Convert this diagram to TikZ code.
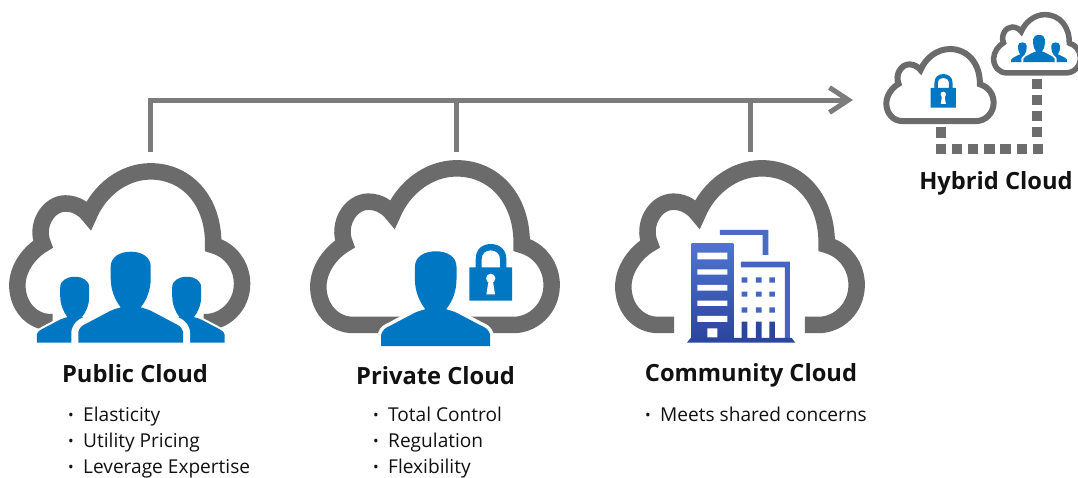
\documentclass[tikz,border=0pt]{standalone}
\usepackage{fontspec}
\setmainfont{Open Sans}
\usetikzlibrary{arrows.meta}
\definecolor{cloudgray}{HTML}{6B6B6B}
\definecolor{linegray}{HTML}{7C7C7C}
\definecolor{iconblue}{HTML}{0077C2}
\definecolor{bldtop}{HTML}{4F74D2}
\definecolor{bldbot}{HTML}{2B469E}
\definecolor{txt}{HTML}{111111}
\newcommand{\cloudoutline}[2]{(#1,525) -- (160,525) .. controls (100,525) and (55,475) .. (55,410)
 .. controls (55,355) and (95,305) .. (135,282)
 .. controls (110,225) and (150,155) .. (205,155)
 .. controls (240,155) and (265,175) .. (278,192)
 .. controls (310,115) and (385,55) .. (470,55)
 .. controls (585,55) and (668,150) .. (665,285)
 .. controls (720,300) and (755,350) .. (755,405)
 .. controls (755,475) and (700,525) .. (640,525) -- (#2,525)}
\newcommand{\personshape}{(-157,0) -- (-157,-33) .. controls (-152,-48) and (-145,-52) .. (-132,-58)
 -- (-62,-95) .. controls (-50,-101) and (-40,-103) .. (-30,-106)
 .. controls (-47,-128) and (-60,-158) .. (-60,-193) -- (-60,-228)
 .. controls (-60,-258) and (-32,-273) .. (0,-273)
 .. controls (33,-273) and (60,-258) .. (60,-228) -- (60,-193)
 .. controls (60,-158) and (48,-128) .. (30,-106)
 .. controls (40,-103) and (50,-101) .. (62,-95) -- (132,-58)
 .. controls (145,-52) and (152,-48) .. (157,-33) -- (157,0) -- cycle}
% shift x, shift y, scale, halo width
\newcommand{\person}[4]{\begin{scope}[shift={(#1,#2)},scale=#3]
 \draw[white,line width=#4,line join=round] \personshape;
 \fill[iconblue] \personshape;
\end{scope}}
\newcommand{\people}[4]{\begin{scope}[shift={(#1,#2)},scale=#3]
 \begin{scope}[shift={(-168,0)},scale=.725]\draw[white,line width=.3*#4,line join=round] \personshape;\fill[iconblue] \personshape;\end{scope}
 \begin{scope}[shift={(168,0)},scale=.725]\draw[white,line width=.3*#4,line join=round] \personshape;\fill[iconblue] \personshape;\end{scope}
 \draw[white,line width=#4,line join=round] \personshape;
 \fill[iconblue] \personshape;
\end{scope}}
% lock: origin bottom centre; zoomed units
\newcommand{\padlock}[3]{\begin{scope}[shift={(#1,#2)},scale=#3]
 \fill[iconblue,even odd rule] (-64,0) rectangle (64,-100)
  (-45,-100) -- (-45,-125) .. controls (-45,-155) and (-25,-170) .. (0,-170)
  .. controls (25,-170) and (47,-155) .. (47,-125) -- (47,-100) -- (28,-100) -- (28,-125)
  .. controls (28,-142) and (15,-151) .. (0,-151) .. controls (-15,-151) and (-27,-142) .. (-27,-125) -- (-27,-100) -- cycle;
 \fill[white] (0,-67) circle[radius=14];
 \fill[white] (-6,-62) -- (-13,-19) -- (13,-19) -- (6,-62) -- cycle;
\end{scope}}
\tikzset{
 cloudline/.style={draw=cloudgray,line join=miter,fill=none},
 trunk/.style={draw=linegray,line width=5pt},
 title/.style={anchor=base,font=\fontsize{23.7}{26}\selectfont\bfseries,text=txt,inner sep=0pt},
 item/.style={anchor=base west,font=\fontsize{19.1}{22}\selectfont,text=txt,inner sep=0pt},
 link/.style={draw=linegray!88!black,line width=10.5pt}
}
\newcommand{\bul}{\makebox[15pt][l]{\fontsize{15}{15}\selectfont\raisebox{1pt}{•}}}
\begin{document}
\begin{tikzpicture}[x=1pt,y=-1pt]
\useasboundingbox (0,0) rectangle (1078,477);
\fill[white] (0,0) rectangle (1078,477);

% trunk and branches
\coordinate (pubtop) at (150,152);
\coordinate (pritop) at (456,152);
\coordinate (comtop) at (750,152);
\coordinate (corner) at (150,100);
\coordinate (pribr) at (456,100);
\coordinate (combr) at (750,100);
\coordinate (tip) at (853,100);
\draw[trunk] (pritop) -- (pribr);
\draw[trunk] (comtop) -- (combr);
\draw[trunk,-{Straight Barb[length=19pt,width=25pt,line width=5pt]}] (pubtop) -- (corner) -- (tip);

% public cloud
\begin{scope}[shift={(-0.3,153.7)},scale=.321]
 \draw[cloudline,line width=16.5pt] \cloudoutline{165}{635};
\end{scope}
\people{130.7}{342.7}{.3333}{14pt}

% private cloud
\begin{scope}[shift={(300,150)},scale=.3333]
 \draw[cloudline,line width=16.5pt] \cloudoutline{400}{400};
\end{scope}
\person{435.7}{346}{.347}{7pt}
\padlock{490.7}{300.7}{.3333}

% community cloud
\begin{scope}[shift={(605,150)},scale=.3333]
 \draw[cloudline,line width=16.5pt] \cloudoutline{207}{600};
\end{scope}
\begin{scope}[shift={(600,150)},scale=.3333]
 \fill[bldtop!92!black] (360,240) -- (505,240) -- (505,315) -- (488,315) -- (488,255) -- (360,255) -- cycle;
 \shade[top color=bldtop,bottom color=bldbot] (275,280) rectangle (400,566);
 \fill[white] (292,308) rectangle (382,328) (292,358) rectangle (382,374) (292,405) rectangle (382,422)
   (292,452) rectangle (382,468) (292,498) rectangle (382,516) (322,535) rectangle (352,562);
 \fill[bldtop!70!bldbot] (423,352) -- (423,335) -- (570,335) -- (570,566) -- (555,566) -- (555,352) -- cycle;
 \fill[bldtop!70!bldbot] (425,382) rectangle (442,398) (468,382) rectangle (485,398) (508,382) rectangle (525,398)
   (425,425) rectangle (442,440) (468,425) rectangle (485,440) (508,425) rectangle (525,440)
   (425,472) rectangle (442,488) (468,472) rectangle (485,488) (508,472) rectangle (525,488);
 \fill[bldbot] (425,515) rectangle (442,566) (468,515) rectangle (485,566) (508,515) rectangle (525,566);
 \fill[bldbot] (272,564) -- (575,564) -- (586,578) -- (261,578) -- cycle;
\end{scope}

% hybrid clouds
\begin{scope}[shift={(877.9,40.6)},scale=.1533]
 \draw[cloudline,line width=6pt] \cloudoutline{400}{400};
\end{scope}
\padlock{943.3}{107.7}{.198}
\begin{scope}[shift={(986.8,7.8)},scale=.124]
 \draw[cloudline,line width=5.5pt] \cloudoutline{400}{400};
\end{scope}
\people{1039}{62}{.099}{4pt}

% hybrid link
\coordinate (lstart) at (941,127);
\coordinate (lb) at (941,137.5);
\coordinate (hl) at (935.5,149);
\coordinate (hr) at (1042.5,149);
\coordinate (vb) at (1037,137);
\coordinate (vt) at (1037,79);
\draw[link] (lstart) -- (lb);
\draw[link,dash pattern=on 10.5pt off 5.7pt] (hl) -- (hr);
\draw[link,dash pattern=on 10pt off 6pt] (vb) -- (vt);

% titles
\node[title] (pubt) at (135,382) {Public Cloud};
\node[title] (prit) at (435.5,384) {Private Cloud};
\node[title] (comt) at (751,381) {Community Cloud};
\node[title] (hybt) at (996,189) {Hybrid Cloud};

% bullets
\node[item] (a1) at (68,421) {\bul Elasticity};
\node[item] (a2) at (68,447) {\bul Utility Pricing};
\node[item] (a3) at (68,473) {\bul Leverage Expertise};
\node[item] (b1) at (373,421) {\bul Total Control};
\node[item] (b2) at (373,447) {\bul Regulation};
\node[item] (b3) at (373,473) {\bul Flexibility};
\node[item] (c1) at (645,421) {\bul Meets shared concerns};
\end{tikzpicture}
\end{document}
